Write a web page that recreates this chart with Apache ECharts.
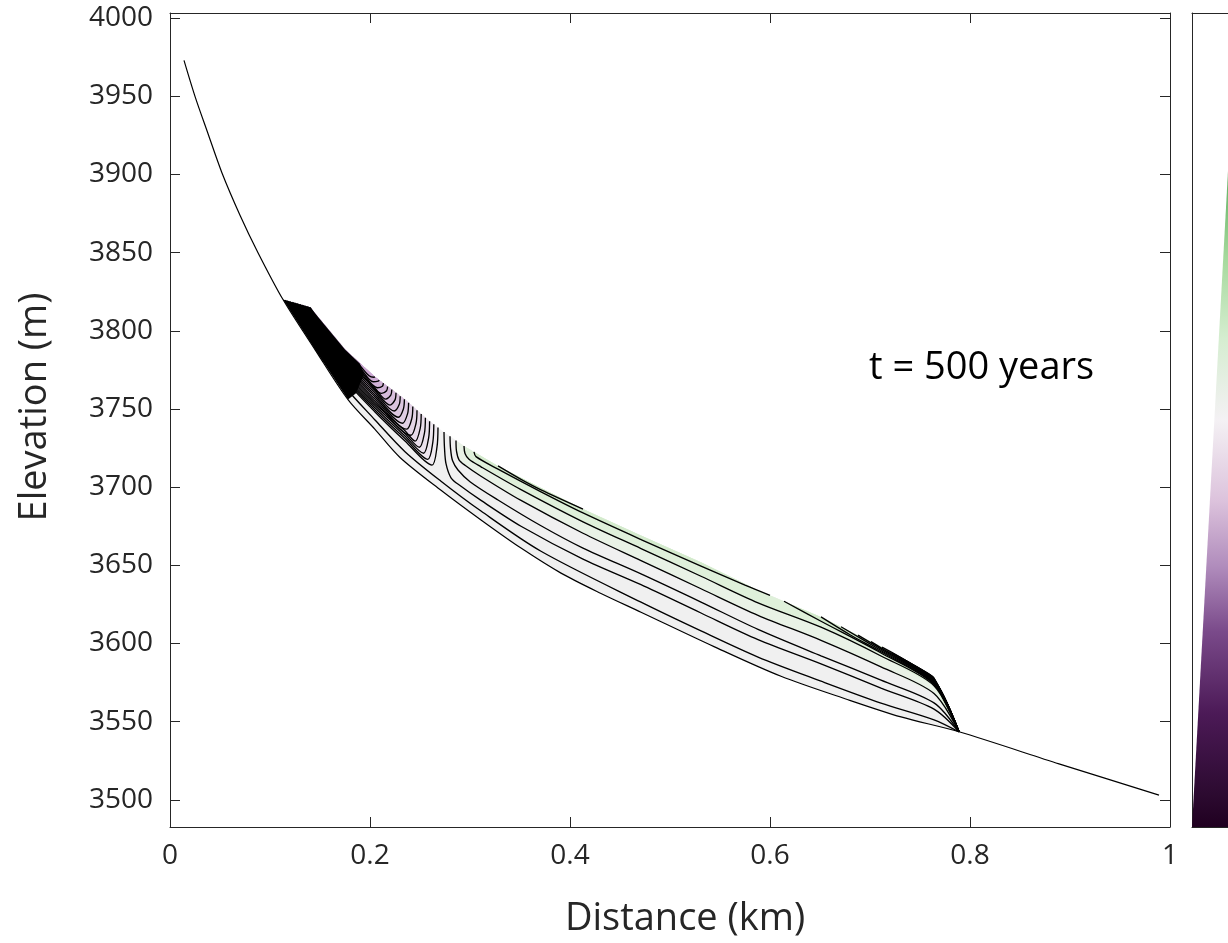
<!DOCTYPE html>
<html><head><meta charset="utf-8">
<script src="https://cdn.jsdelivr.net/npm/echarts@6/dist/echarts.min.js"></script>
<style>html,body{margin:0;padding:0;background:#fff}#c{width:1228px;height:943px}</style>
</head><body><div id="c"></div>
<script>
// ---------------- data (km, m) ----------------
const X_TICKS = [0, 0.2, 0.4, 0.6, 0.8, 1];
const Y_TICKS = [3500, 3550, 3600, 3650, 3700, 3750, 3800, 3850, 3900, 3950, 4000];
const ANNOTATION = 't = 500 years';

const BED = [[0.014,3973],[0.025,3950],[0.037,3928],[0.052,3901],[0.070,3874],[0.088,3850],[0.113,3820],[0.145,3788],[0.178,3756],[0.205,3737],[0.230,3719],[0.271,3698],[0.311,3679],[0.351,3661],[0.391,3645],[0.431,3632],[0.471,3620],[0.544,3598],[0.611,3579],[0.678,3564],[0.731,3553],[0.789,3543.5],[0.889,3523],[0.989,3503]];
const SURFACE = [[0.113,3820],[0.140,3815],[0.175,3788],[0.205,3770.5],[0.235,3756],[0.256,3744],[0.271,3736.6],[0.294,3726.3],[0.328,3713.6],[0.371,3699.5],[0.413,3686],[0.471,3669],[0.531,3652],[0.588,3634],[0.651,3617],[0.711,3598],[0.764,3578],[0.789,3543.5]];

// contour lines, lower (downstream) family
const R1 = [[0.116,3818.5],[0.150,3787.4],[0.175,3764.2],[0.205,3743],[0.235,3722.7],[0.271,3703.8],[0.311,3684.7],[0.371,3659],[0.471,3626.4],[0.531,3608],[0.588,3591.3],[0.651,3575.9],[0.711,3561.9],[0.764,3551.2],[0.789,3543.5]];
const RL1 = [[0.274,3735.3],[0.2745,3725],[0.276,3715],[0.281,3706],[0.290,3701],[0.311,3691.5],[0.351,3675],[0.413,3654],[0.471,3637.6],[0.531,3619.5],[0.588,3602.5],[0.651,3587],[0.711,3571.4],[0.764,3558],[0.789,3543.5]];
const RL2 = [[0.280,3732.6],[0.2805,3725],[0.2825,3717],[0.288,3711],[0.300,3703.5],[0.328,3691.8],[0.371,3675.3],[0.413,3661],[0.471,3644.5],[0.531,3626.5],[0.588,3609],[0.651,3592.1],[0.711,3576.5],[0.764,3562],[0.789,3543.5]];
const RL3 = [[0.286,3729.9],[0.2865,3723],[0.289,3717.5],[0.295,3714],[0.311,3707],[0.351,3691.5],[0.413,3670.5],[0.471,3653],[0.531,3635],[0.588,3618],[0.651,3602],[0.711,3585],[0.764,3568],[0.789,3543.5]];
const RL4 = [[0.294,3726.3],[0.295,3721.5],[0.299,3717.8],[0.311,3713],[0.351,3698.4],[0.413,3677.8],[0.471,3660.7],[0.531,3643],[0.588,3626],[0.651,3610.4],[0.711,3592],[0.764,3573],[0.789,3543.5]];
const RL5 = [[0.304,3722.6],[0.306,3719.5],[0.328,3711.5],[0.371,3697],[0.413,3683.5],[0.471,3666.5],[0.531,3649.5],[0.575,3637.3],[0.600,3630.8]];
const RL6 = [[0.328,3713.6],[0.351,3705],[0.371,3698.3],[0.413,3686]];
// lines entering from the surface near the front
const SL = [
  [[0.614,3627],[0.651,3614.2],[0.711,3593.9],[0.764,3573.7],[0.789,3543.5]],
  [[0.651,3617],[0.680,3605.6],[0.711,3594.7],[0.764,3574.2],[0.789,3543.5]],
  [[0.671,3610.7],[0.711,3595.5],[0.764,3574.7],[0.789,3543.5]],
  [[0.688,3605.3],[0.711,3596.4],[0.764,3575.1],[0.789,3543.5]],
  [[0.701,3601.2],[0.711,3597.2],[0.764,3575.6],[0.789,3543.5]],
  [[0.712,3597.6],[0.764,3576],[0.789,3543.5]],
  [[0.722,3593.9],[0.764,3576.5],[0.789,3543.5]],
  [[0.731,3590.5],[0.764,3576.9],[0.789,3543.5]],
  [[0.740,3587.1],[0.764,3577.2],[0.789,3543.5]],
  [[0.748,3584],[0.764,3577.6],[0.789,3543.5]],
  [[0.756,3581],[0.764,3577.8],[0.789,3543.5]]
];
// upper (upstream) family of U-shaped lines, outermost first
const UL = [
  [[0.115,3819.6],[0.150,3791.0],[0.175,3768.6],[0.205,3748.1],[0.235,3729.5],[0.262,3714.1],[0.267,3725.7],[0.268,3738.1]],
  [[0.1167,3819.3],[0.150,3792.0],[0.175,3769.8],[0.205,3749.4],[0.235,3731.1],[0.2578,3717.8],[0.2628,3728.6],[0.2638,3740.2]],
  [[0.1183,3819.0],[0.150,3793.0],[0.175,3770.9],[0.205,3750.8],[0.235,3732.7],[0.2536,3721.7],[0.2586,3731.4],[0.2596,3742.2]],
  [[0.120,3818.7],[0.150,3794.0],[0.175,3772.1],[0.205,3752.2],[0.235,3734.3],[0.2494,3725.5],[0.2544,3734.4],[0.2554,3744.4]],
  [[0.1217,3818.4],[0.150,3795.0],[0.175,3773.3],[0.205,3753.5],[0.235,3736.0],[0.2452,3729.4],[0.2502,3737.6],[0.2512,3746.8]],
  [[0.1233,3818.1],[0.150,3796.0],[0.175,3774.5],[0.205,3754.9],[0.241,3733.2],[0.246,3740.7],[0.247,3749.2]],
  [[0.125,3817.8],[0.150,3797.0],[0.175,3775.7],[0.205,3756.3],[0.2368,3737.1],[0.2418,3743.8],[0.2428,3751.6]],
  [[0.1267,3817.5],[0.150,3798.0],[0.175,3776.9],[0.205,3757.7],[0.2326,3740.9],[0.2376,3747.0],[0.2386,3754.0]],
  [[0.1283,3817.2],[0.150,3799.0],[0.175,3778.1],[0.205,3759.0],[0.2284,3744.7],[0.2334,3750.0],[0.2344,3756.2]],
  [[0.130,3816.9],[0.150,3800.0],[0.175,3779.3],[0.205,3760.4],[0.2242,3748.7],[0.2292,3752.8],[0.2302,3758.2]],
  [[0.1317,3816.5],[0.150,3801.0],[0.175,3780.5],[0.205,3761.8],[0.220,3752.5],[0.225,3755.8],[0.226,3760.4]],
  [[0.1333,3816.2],[0.150,3802.0],[0.175,3781.6],[0.205,3763.2],[0.2158,3756.3],[0.2208,3758.8],[0.2218,3762.4]],
  [[0.135,3815.9],[0.150,3803.0],[0.175,3782.8],[0.190,3773.7],[0.2116,3760.0],[0.2166,3761.7],[0.2176,3764.4]],
  [[0.1367,3815.6],[0.150,3804.0],[0.175,3784.0],[0.190,3775.0],[0.2074,3763.6],[0.2124,3764.5],[0.2134,3766.5]],
  [[0.1383,3815.3],[0.150,3805.0],[0.175,3785.2],[0.190,3776.3],[0.2032,3767.4],[0.2082,3767.8],[0.2092,3768.5]],
  [[0.140,3815.0],[0.150,3806.0],[0.175,3786.4],[0.190,3777.6],[0.199,3771.2],[0.204,3770.3],[0.205,3770.5]]
];
// densely packed line bundles that read as solid black
const DENSE_HEAD = [[0.113,3820],[0.140,3815],[0.175,3788],[0.190,3779],[0.194,3772],[0.186,3760],[0.178,3756],[0.145,3788]];
const DENSE_FRONT = [[0.712,3597.6],[0.764,3578],[0.789,3543.5],[0.764,3575.4],[0.740,3585.4]];
// colour bar wedge (fraction of visible bar width, fraction of bar height)
const CBAR_WEDGE = [[0,0],[1,0.806],[1,0]];

// ---------------- build ----------------
const AX = '#262626', FONT = '"Open Sans", "Noto Sans", sans-serif';
function surfBetween(a, b) { return SURFACE.filter(p => p[0] > a + 1e-6 && p[0] < b - 1e-6).reverse(); }
function regionAbove(line) { return line.concat(surfBetween(line[0][0], line[line.length - 1][0])); }
function mix(c1, c2, t) { return 'rgb(' + c1.map((v, i) => Math.round(v + (c2[i] - v) * t)).join(',') + ')'; }

const polys = [];
polys.push({ pts: SURFACE.concat(BED.filter(p => p[0] > 0.113 && p[0] < 0.789).reverse()), fill: '#f0f0f0' });
UL.forEach((u, k) => polys.push({ pts: regionAbove(u), fill: mix([240, 235, 241], [203, 168, 210], k / (UL.length - 1)) }));
polys.push({ pts: regionAbove(RL3), fill: '#e9f2e6' });
polys.push({ pts: regionAbove(RL4), fill: '#dff0da' });
polys.push({ pts: regionAbove(RL5), fill: '#d4ebcd' });
polys.push({ pts: regionAbove(RL6), fill: '#cde8c5' });
polys.push({ pts: regionAbove(SL[0]), fill: '#d2eacb' });

function polySeries(list, z, xi, yi) {
  return {
    type: 'custom', coordinateSystem: 'cartesian2d', xAxisIndex: xi, yAxisIndex: yi, z: z, silent: true, clip: true, animation: false,
    data: list.map(p => p.pts[0]),
    renderItem: function (params, api) {
      const p = list[params.dataIndex];
      return { type: 'polygon', shape: { points: p.pts.map(q => api.coord(q)) }, style: { fill: p.fill, stroke: p.stroke || null, lineWidth: p.lw || 0 } };
    }
  };
}
function lineSeries(data, w, z) {
  return { type: 'line', data: data, xAxisIndex: 0, yAxisIndex: 0, symbol: 'none', showSymbol: false, smooth: 0.3,
    lineStyle: { color: '#000', width: w }, silent: true, z: z, clip: true, animation: false };
}

const series = [];
series.push(polySeries(polys, 2, 0, 0));
[R1, RL1, RL2, RL3, RL4, RL5, RL6].concat(SL).concat(UL).forEach(l => series.push(lineSeries(l, 1.35, 4)));
series.push(polySeries([{ pts: DENSE_HEAD, fill: '#000' }, { pts: DENSE_FRONT, fill: '#000' }], 5, 0, 0));
series.push(lineSeries(BED, 1.2, 6));

// colour bar gradient in page pixels: bottom of bar (y=827) to top (y=13)
const grad = new echarts.graphic.LinearGradient(0, 827, 0, 13, [
  { offset: 0.00, color: '#200020' }, { offset: 0.04, color: '#2c0a30' }, { offset: 0.14, color: '#4c1a57' },
  { offset: 0.24, color: '#7a4a8a' }, { offset: 0.32, color: '#b08cbc' }, { offset: 0.40, color: '#dcc2dc' },
  { offset: 0.50, color: '#f4f1f4' }, { offset: 0.60, color: '#d5edd0' }, { offset: 0.70, color: '#a5d99c' },
  { offset: 0.80, color: '#5fb062' }, { offset: 0.90, color: '#2a8a3e' }, { offset: 1.00, color: '#0a4a1e' }
], true);
series.push(polySeries([{ pts: CBAR_WEDGE, fill: grad }], 2, 2, 2));

const tickStyle = { inside: true, length: 10, lineStyle: { color: AX, width: 1 } };
const lineStyleAx = { show: true, onZero: false, lineStyle: { color: AX, width: 1 } };
const labelStyle = { color: AX, fontSize: 28, fontFamily: FONT };

const option = {
  backgroundColor: '#fff',
  animation: false,
  grid: [
    { left: 170, top: 13, width: 1000, height: 814, show: false, containLabel: false, outerBoundsMode: 'none' },
    { left: 1192, top: 13, width: 36, height: 814, show: false, containLabel: false, outerBoundsMode: 'none' }
  ],
  xAxis: [
    { type: 'value', gridIndex: 0, min: 0, max: 1, interval: 0.2, position: 'bottom',
      axisLine: lineStyleAx, axisTick: tickStyle, splitLine: { show: false },
      axisLabel: Object.assign({ margin: 15, lineHeight: 28, formatter: v => String(v) }, labelStyle),
      name: 'Distance (km)', nameLocation: 'middle', nameGap: 73,
      nameTextStyle: { color: AX, fontSize: 38, fontFamily: FONT, lineHeight: 38, padding: [0, 0, 0, 30] } },
    { type: 'value', gridIndex: 0, min: 0, max: 1, interval: 0.2, position: 'top',
      axisLine: lineStyleAx, axisTick: tickStyle, splitLine: { show: false }, axisLabel: { show: false } },
    { type: 'value', gridIndex: 1, min: 0, max: 1, position: 'bottom',
      axisLine: lineStyleAx, axisTick: { show: false }, axisLabel: { show: false }, splitLine: { show: false } },
    { type: 'value', gridIndex: 1, min: 0, max: 1, position: 'top',
      axisLine: lineStyleAx, axisTick: { show: false }, axisLabel: { show: false }, splitLine: { show: false } }
  ],
  yAxis: [
    { type: 'value', gridIndex: 0, min: 3482.6, max: 4003.3, position: 'left',
      axisLine: lineStyleAx, axisTick: Object.assign({ customValues: Y_TICKS }, tickStyle), splitLine: { show: false },
      axisLabel: Object.assign({ margin: 17, customValues: Y_TICKS, formatter: v => String(v) }, labelStyle),
      name: 'Elevation (m)', nameLocation: 'middle', nameGap: 116, nameRotate: 90,
      nameTextStyle: { color: AX, fontSize: 38, fontFamily: FONT, lineHeight: 38, padding: [0, 0, 0, 26] } },
    { type: 'value', gridIndex: 0, min: 3482.6, max: 4003.3, position: 'right',
      axisLine: lineStyleAx, axisTick: Object.assign({ customValues: Y_TICKS }, tickStyle), splitLine: { show: false },
      axisLabel: { show: false } },
    { type: 'value', gridIndex: 1, min: 0, max: 1, position: 'left',
      axisLine: lineStyleAx, axisTick: { show: false }, axisLabel: { show: false }, splitLine: { show: false } }
  ],
  graphic: [
    { type: 'text', left: 869, top: 349, silent: true,
      style: { text: ANNOTATION, fill: '#000', font: '38px ' + FONT } }
  ],
  series: series
};
const chart = echarts.init(document.getElementById('c'));
chart.setOption(option);
</script></body></html>
